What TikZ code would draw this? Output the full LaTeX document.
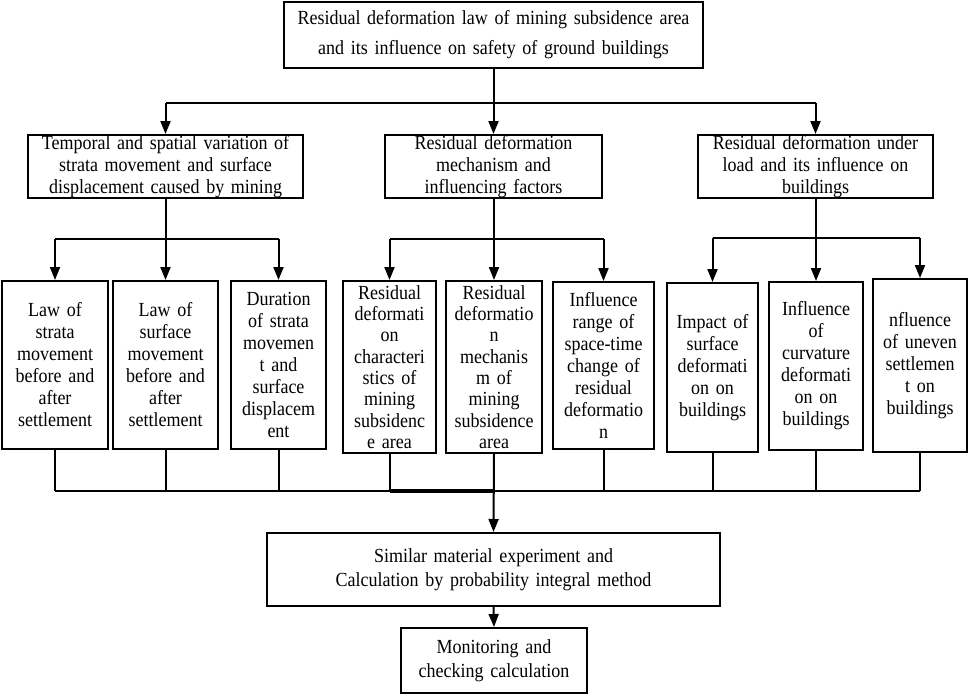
\documentclass[tikz,border=0pt]{standalone}
\usepackage{fontspec}
\setmainfont{Liberation Serif}[FakeStretch=0.9]
\usetikzlibrary{arrows.meta}
\begin{document}
\begin{tikzpicture}[x=1pt,y=-1pt,
  box/.style={draw, line width=2pt, inner sep=0pt, align=center, font=\fontsize{20}{22}\selectfont},
  tallbox/.style={box, font=\fontsize{20}{21.3}\selectfont},
  arr/.style={-{Triangle[length=13pt,width=10pt]}},
  conn/.style={line width=2pt}]
\useasboundingbox (0,0) rectangle (969,696);
% top
\node[box, font=\fontsize{20}{30}\selectfont, minimum width=419pt, minimum height=66pt, text width=410pt] (top) at (493.5,35)
  {Residual deformation law of mining subsidence area\\and its influence on safety of ground buildings};
% level 2
\node[box, minimum width=275pt, minimum height=63pt, text width=270pt] (L) at (165.5,166.5)
  {Temporal and spatial variation of\\strata movement and surface\\displacement caused by mining};
\node[box, minimum width=217pt, minimum height=63pt, text width=212pt] (M) at (493.5,166.5)
  {Residual deformation\\mechanism and\\influencing factors};
\node[box, minimum width=235pt, minimum height=63pt, text width=230pt] (R) at (815.5,166.5)
  {Residual deformation under\\load and its influence on\\buildings};
% level 3
\node[box, minimum width=106pt, minimum height=168pt, text width=104pt] (b1) at (55,365)
  {Law of\\strata\\movement\\before and\\after\\settlement};
\node[box, minimum width=105pt, minimum height=168pt, text width=103pt] (b2) at (165.5,365)
  {Law of\\surface\\movement\\before and\\after\\settlement};
\node[box, minimum width=95pt, minimum height=168pt, text width=93pt] (b3) at (278.5,365)
  {Duration\\of strata\\movemen\\t and\\surface\\displacem\\ent};
\node[tallbox, minimum width=93pt, minimum height=172pt, text width=91pt] (b4) at (389.5,367)
  {Residual\\deformati\\on\\characteri\\stics of\\mining\\subsidenc\\e area};
\node[tallbox, minimum width=96pt, minimum height=172pt, text width=94pt] (b5) at (494,367)
  {Residual\\deformatio\\n\\mechanis\\m of\\mining\\subsidence\\area};
\node[box, minimum width=101pt, minimum height=167pt, text width=99pt] (b6) at (603.5,365.5)
  {Influence\\range of\\space-time\\change of\\residual\\deformatio\\n};
\node[box, minimum width=91pt, minimum height=169pt, text width=89pt] (b7) at (712.5,367.5)
  {Impact of\\surface\\deformati\\on on\\buildings};
\node[box, minimum width=94pt, minimum height=168pt, text width=92pt] (b8) at (816,366)
  {Influence\\of\\curvature\\deformati\\on on\\buildings};
\node[box, minimum width=94pt, minimum height=173pt, text width=92pt] (b9) at (920,365.5)
  {nfluence\\of uneven\\settlemen\\t on\\buildings};
% bottom
\node[box, minimum width=453pt, minimum height=73pt, text width=445pt, font=\fontsize{20}{23.5}\selectfont] (sim) at (493.5,569.5)
  {Similar material experiment and\\Calculation by probability integral method};
\node[box, minimum width=186pt, minimum height=65pt, text width=180pt, font=\fontsize{20}{23.5}\selectfont] (mon) at (494,660.5)
  {Monitoring and\\checking calculation};
% connectors
\coordinate (h1) at (0,103);
\coordinate (h2) at (0,239);
\coordinate (h3) at (0,238);
\coordinate (h4) at (0,491);
\begin{scope}[conn]
\draw (top.south) -- (top.south |- h1);
\draw (L.north |- h1) -- (R.north |- h1);
\draw[arr] (L.north |- h1) -- (L.north);
\draw[arr] (M.north |- h1) -- (M.north);
\draw[arr] (R.north |- h1) -- (R.north);
\draw (L.south) -- (L.south |- h2);
\draw (b1.north |- h2) -- (b3.north |- h2);
\draw[arr] (b1.north |- h2) -- (b1.north);
\draw[arr] (b2.north |- h2) -- (b2.north);
\draw[arr] (b3.north |- h2) -- (b3.north);
\draw (M.south) -- (M.south |- h2);
\draw (b4.north |- h2) -- (b6.north |- h2);
\draw[arr] (b4.north |- h2) -- (b4.north);
\draw[arr] (b5.north |- h2) -- (b5.north);
\draw[arr] (b6.north |- h2) -- (b6.north);
\draw (R.south) -- (R.south |- h3);
\draw (b7.north |- h3) -- (b9.north |- h3);
\draw[arr] (b7.north |- h3) -- (b7.north);
\draw[arr] (b8.north |- h3) -- (b8.north);
\draw[arr] (b9.north |- h3) -- (b9.north);
\foreach \b in {b1,b2,b3,b4,b6,b7,b8,b9} {\draw (\b.south) -- (\b.south |- h4);}
\draw (b1.south |- h4) -- (b9.south |- h4);
\draw[line width=3.5pt] (b4.south |- h4) -- (b5.south |- h4);
\draw[arr] (b5.south) -- (sim.north);
\draw[arr] (sim.south) -- (mon.north);
\end{scope}
\end{tikzpicture}
\end{document}
